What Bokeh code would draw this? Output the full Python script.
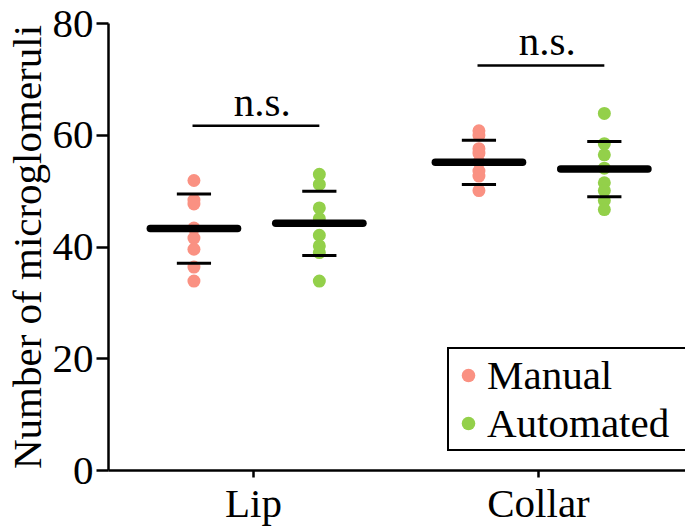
from bokeh.plotting import figure
from bokeh.models import Range1d, FixedTicker, Legend, LegendItem
from bokeh.core.properties import value
from bokeh.embed import file_html
from bokeh.resources import INLINE

# ---- data ----
categories = ["Lip", "Collar"]
lip_manual = [51.9, 48.4, 47.7, 43.4, 41.6, 39.6, 36.4, 33.9]
lip_automated = [53.0, 51.2, 47.0, 45.1, 42.1, 40.2, 39.0, 33.9]
collar_manual = [60.8, 60.0, 57.6, 56.8, 55.2, 53.6, 52.7, 50.1]
collar_automated = [63.9, 58.5, 56.5, 54.1, 51.5, 50.1, 48.3, 46.7]
manual_mean = [43.3, 55.15]
manual_sd = [6.2, 3.95]
automated_mean = [44.25, 53.95]
automated_sd = [5.75, 4.95]
bracket_y = [61.7, 72.5]
sig_labels = ["n.s.", "n.s."]

FONT = "Liberation Serif"
FS = "41px"
MAN_COL = "#FA9182"
AUT_COL = "#93D04A"
OFF_M, OFF_A = -0.209, 0.231

p = figure(width=685, height=528, output_backend="svg", toolbar_location=None,
           x_range=Range1d(0.4912, 2.5158), y_range=Range1d(0, 80),
           min_border_top=23, min_border_left=108, min_border_right=0, min_border_bottom=0)
p.outline_line_color = None
p.xgrid.visible = False
p.ygrid.visible = False
p.background_fill_color = "white"

pos = [1, 2]
man_r = None
aut_r = None
for i, (mv, av) in enumerate([(lip_manual, lip_automated), (collar_manual, collar_automated)]):
    xm = pos[i] + OFF_M
    xa = pos[i] + OFF_A
    r1 = p.scatter([xm] * len(mv), mv, size=13, color=MAN_COL, line_color=None)
    r2 = p.scatter([xa] * len(av), av, size=13, color=AUT_COL, line_color=None)
    if man_r is None:
        man_r, aut_r = r1, r2

# mean bars and SD caps
xs_m = [pos[i] + OFF_M for i in range(2)]
xs_a = [pos[i] + OFF_A for i in range(2)]
xc = xs_m + xs_a
means = manual_mean + automated_mean
sds = manual_sd + automated_sd
p.segment(x0=[x - 0.153 for x in xc], x1=[x + 0.153 for x in xc], y0=means, y1=means,
          line_width=7.5, line_color="black", line_cap="round")
up = [m + s for m, s in zip(means, sds)]
dn = [m - s for m, s in zip(means, sds)]
p.segment(x0=[x - 0.06 for x in xc] * 2, x1=[x + 0.06 for x in xc] * 2, y0=up + dn, y1=up + dn,
          line_width=3, line_color="black")

# significance brackets
p.segment(x0=[pos[i] + OFF_M - 0.005 for i in range(2)], x1=[pos[i] + OFF_A for i in range(2)],
          y0=bracket_y, y1=bracket_y, line_width=2.5, line_color="black")
p.text(x=[(pos[i] + (OFF_M + OFF_A) / 2 + 0.02) for i in range(2)],
       y=bracket_y, text=sig_labels, y_offset=-1,
       text_font=value(FONT), text_font_size=FS, text_align="center",
       text_baseline="bottom", text_color="black")

# axes
p.yaxis.ticker = FixedTicker(ticks=[0, 20, 40, 60, 80])
p.yaxis.axis_label = "Number of microglomeruli"
p.yaxis.axis_label_text_font = FONT
p.yaxis.axis_label_text_font_size = FS
p.yaxis.axis_label_text_font_style = "normal"
p.yaxis.axis_label_text_color = "black"
p.yaxis.axis_label_standoff = 0
p.yaxis.major_label_text_font = FONT
p.yaxis.major_label_text_font_size = FS
p.yaxis.major_label_text_color = "black"
p.yaxis.major_label_standoff = 3
p.yaxis.major_tick_out = 12
p.yaxis.major_tick_in = 0
p.yaxis.minor_tick_out = 0
p.yaxis.minor_tick_in = 0
p.yaxis.axis_line_width = 2.5
p.yaxis.major_tick_line_width = 2.5
p.yaxis.axis_line_color = "black"
p.yaxis.major_tick_line_color = "black"

p.xaxis.ticker = FixedTicker(ticks=pos)
p.xaxis.major_label_overrides = {1: categories[0], 2: categories[1]}
p.xaxis.major_label_text_font = FONT
p.xaxis.major_label_text_font_size = FS
p.xaxis.major_label_text_color = "black"
p.xaxis.major_label_standoff = 2
p.xaxis.major_tick_out = 7
p.xaxis.major_tick_in = 0
p.xaxis.minor_tick_out = 0
p.xaxis.minor_tick_in = 0
p.xaxis.axis_line_width = 2.5
p.xaxis.major_tick_line_width = 2.5
p.xaxis.axis_line_color = "black"
p.xaxis.major_tick_line_color = "black"

legend = Legend(items=[LegendItem(label="Manual", renderers=[man_r]),
                       LegendItem(label="Automated", renderers=[aut_r])],
                location=(339, 19))
legend.label_text_font = FONT
legend.label_text_font_size = FS
legend.label_text_color = "black"
legend.glyph_width = 34
legend.glyph_height = 40
legend.label_height = 40
legend.label_standoff = 2
legend.label_width = 197
legend.spacing = -8
legend.padding = 2
legend.margin = 0
legend.border_line_color = "black"
legend.border_line_alpha = 1
legend.border_line_width = 2
legend.background_fill_alpha = 1
p.add_layout(legend, "center")

open("out.html", "w").write(file_html(p, INLINE))
